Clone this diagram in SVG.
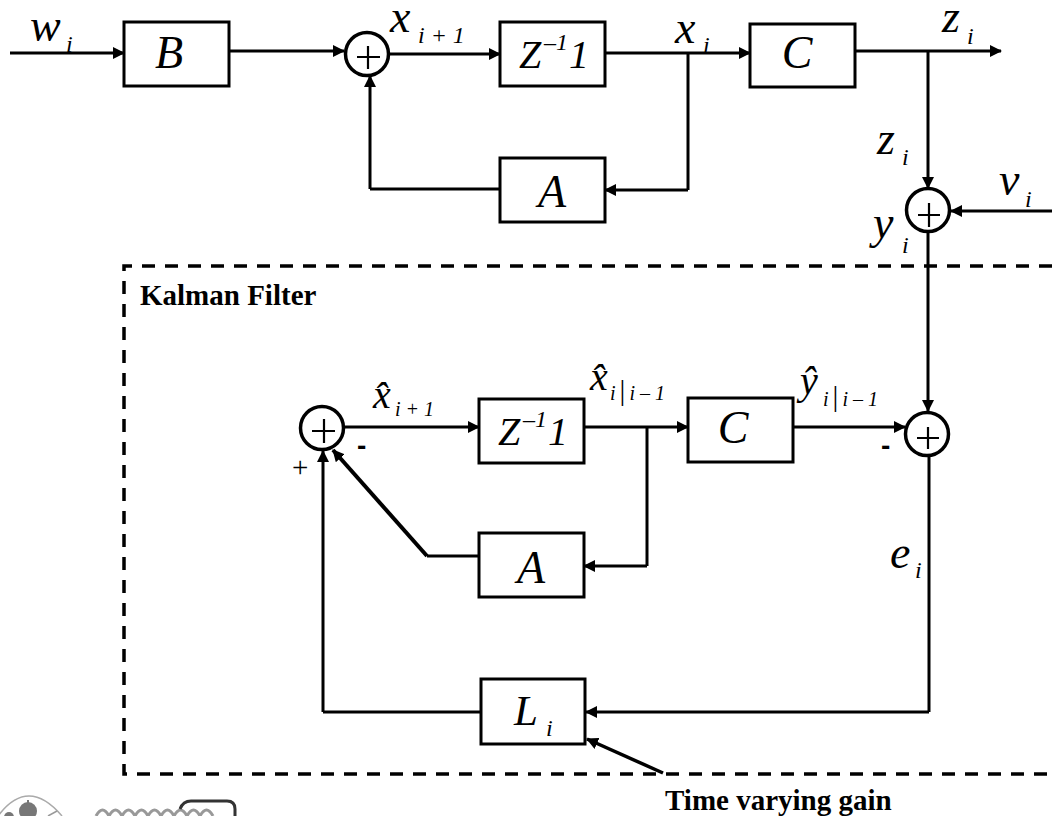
<svg xmlns="http://www.w3.org/2000/svg" width="1052" height="816" viewBox="0 0 1052 816">
<style>
text{font-family:"Liberation Serif","Times New Roman",serif;fill:#000}
.b{fill:#fff;stroke:#000;stroke-width:3}
.s{fill:#fff;stroke:#000;stroke-width:3.5}
.p{fill:none;stroke:#000;stroke-width:2.2}
.c{fill:none;stroke:#000;stroke-width:3;marker-end:url(#a)}
.n{fill:none;stroke:#000;stroke-width:3}
.t{font-size:46px;font-style:italic;text-anchor:middle}
.v{font-size:46px;font-style:italic}
.u{font-size:24px;font-style:italic}
.w{font-size:20px;font-style:italic}
.z{font-size:40px;font-style:italic}
.e{font-size:24px;font-style:italic}
.h{font-size:29px;font-weight:bold}
.m{font-family:"Liberation Sans",Arial,sans-serif;font-size:28px;font-weight:bold}
.bar{font-size:29px;font-style:normal;font-weight:normal}
</style>
<defs><marker id="a" markerUnits="userSpaceOnUse" markerWidth="12" markerHeight="12" refX="11" refY="6" orient="auto"><path d="M0 0L12 6L0 12z" fill="#000"/></marker></defs>
<path id="filter" d="M1052 266H124V774H1052" fill="none" stroke="#000" stroke-width="3.5" stroke-dasharray="13 10"/>
<g id="connectors">
<path class="c" d="M10 53H124"/>
<path class="c" d="M230 51H344"/>
<path class="c" d="M390 54H500"/>
<path class="c" d="M605 53H750"/>
<path class="n" d="M688 53V190"/>
<path class="c" d="M688 190H605"/>
<path class="n" d="M500 189H370"/>
<path class="c" d="M370 189V76"/>
<path class="c" d="M856 51H1001"/>
<path class="c" d="M928 51V188"/>
<path class="c" d="M1052 211H951"/>
<path class="c" d="M928 232V411"/>
<path class="c" d="M345 427H479"/>
<path class="c" d="M584 427H688"/>
<path class="n" d="M647 427V566"/>
<path class="c" d="M647 566H584"/>
<path class="c" d="M793 427H905"/>
<path class="n" d="M929 455V712"/>
<path class="c" d="M929 712H586"/>
<path class="n" d="M481 712H323"/>
<path class="c" d="M323 712V451"/>
<path class="n" d="M479 556H427"/>
<path style="fill:none;stroke:#000;stroke-width:4;marker-end:url(#a)" d="M427 556L333 450"/>
<path style="fill:none;stroke:#000;stroke-width:3.5;marker-end:url(#a)" d="M663 773L587 739"/>
</g>
<g id="B"><rect class="b" x="124" y="22" width="105" height="64"/><text class="t" x="169" y="68">B</text></g>
<g id="sum1"><circle class="s" cx="367" cy="54" r="21.5"/><path class="p" d="M357 57H380M368 46V69"/></g>
<g id="Z1"><rect class="b" x="500" y="22" width="105" height="64"/><text class="z" x="519" y="68">Z</text><text class="e" x="544" y="50">–1</text><text class="z" x="569" y="68">1</text></g>
<g id="C1"><rect class="b" x="750" y="24" width="105" height="63"/><text class="t" x="797" y="68">C</text></g>
<g id="A1"><rect class="b" x="500" y="158" width="105" height="64"/><text class="t" x="552" y="207">A</text></g>
<g id="sum2"><circle class="s" cx="928" cy="210" r="21.5"/><path class="p" d="M918 215H940M929 203V227"/></g>
<g id="sum3"><circle class="s" cx="322" cy="428" r="21.5"/><path class="p" d="M312 431H335M324 419V443"/></g>
<g id="Z2"><rect class="b" x="479" y="399" width="105" height="64"/><text class="z" x="498" y="445">Z</text><text class="e" x="523" y="427">–1</text><text class="z" x="548" y="445">1</text></g>
<g id="C2"><rect class="b" x="688" y="398" width="105" height="64"/><text class="t" x="733" y="443">C</text></g>
<g id="sum4"><circle class="s" cx="927" cy="434" r="21.5"/><path class="p" d="M917 438H939M928 427V449"/></g>
<g id="A2"><rect class="b" x="479" y="533" width="105" height="64"/><text class="t" x="531" y="583">A</text></g>
<g id="L"><rect class="b" x="481" y="679" width="104" height="65"/><text class="v" style="font-size:43px" x="514" y="725">L</text><text class="u" x="546" y="736">i</text></g>
<g id="labels">
<text class="v" x="30" y="41">w</text><text class="u" x="66" y="52">i</text>
<text class="v" x="390" y="32">x</text><text class="u" x="418" y="43">i + 1</text>
<text class="v" x="675" y="43">x</text><text class="u" x="703" y="53">i</text>
<text class="v" x="942" y="32">z</text><text class="u" x="967" y="44">i</text>
<text class="v" x="877" y="154">z</text><text class="u" x="902" y="165">i</text>
<text class="v" x="999" y="195">v</text><text class="u" x="1025" y="207">i</text>
<text class="v" x="873" y="238">y</text><text class="u" x="902" y="253">i</text>
<text class="z" x="373" y="408">x̂</text><text class="w" x="395" y="416">i + 1</text>
<text class="z" x="590" y="390">x̂</text><text class="w" x="610" y="400">i<tspan class="bar" dx="4">|</tspan><tspan dx="4">i – 1</tspan></text>
<text class="z" x="800" y="394">ŷ</text><text class="w" x="823" y="406">i<tspan class="bar" dx="4">|</tspan><tspan dx="4">i – 1</tspan></text>
<text class="v" x="890" y="568">e</text><text class="u" x="915" y="578">i</text>
<text class="h" x="140" y="305">Kalman Filter</text>
<text class="h" x="665" y="810">Time varying gain</text>
<text class="m" x="357" y="455">-</text>
<text class="m" x="881" y="455">-</text>
<text style="font-size:29px" x="292" y="477">+</text>
</g>
<g id="logo" fill="none">
<path d="M-2 816Q28 776 62 816" stroke="#aaa" stroke-width="1.5"/>
<circle cx="28" cy="811" r="9" fill="#777"/><path d="M28 800V804" stroke="#777" stroke-width="2"/>
<circle cx="9" cy="817" r="5" fill="#777"/>
<path d="M48 816L57 811" stroke="#999" stroke-width="1.5"/>
<path d="M96 816q6.500-12 13 0q6.500-12 13 0q6.500-12 13 0q6.500-12 13 0q6.500-12 13 0q6.500-12 13 0q6.500-12 13 0q6.500-12 13 0q6.500-12 13 0" stroke="#999" stroke-width="3"/>
<path d="M180 809Q183 801 191 801H227Q235 801 235 809V816" stroke="#333" stroke-width="3"/>
</g>
</svg>
